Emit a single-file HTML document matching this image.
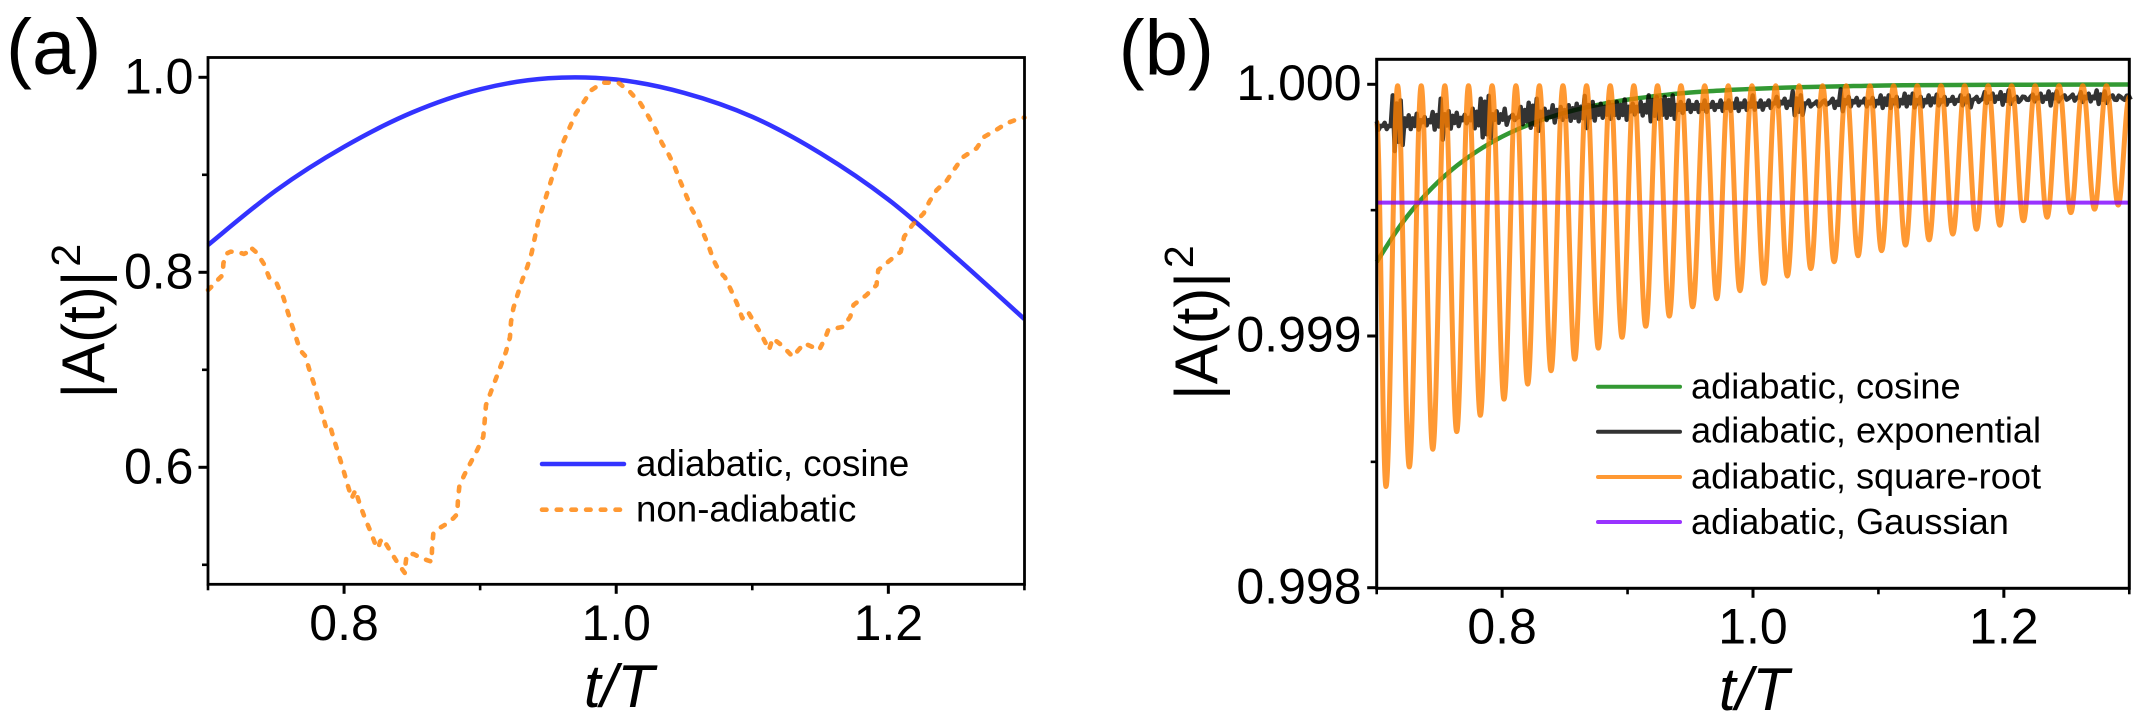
<!DOCTYPE html>
<html>
<head>
<meta charset="utf-8">
<title>Adiabatic amplitude chart</title>
<style>
html,body{margin:0;padding:0;background:#fff;}
svg{display:block;font-family:"Liberation Sans",Arial,sans-serif;}
text{fill:#000;}
</style>
</head>
<body>
<svg id="figure" width="2151" height="724" viewBox="0 0 2151 724" xmlns="http://www.w3.org/2000/svg">
  <rect x="0" y="0" width="2151" height="724" fill="#fff"/>
  <g id="panelA"></g>
  <g id="panelB"></g>

  <text x="6" y="73.6" font-size="78">(a)</text>
  <text x="1118.6" y="74.3" font-size="78">(b)</text>

  <text transform="translate(104,398.5) rotate(-90)" font-size="60">|A(t)|<tspan font-size="41" dy="-24" dx="4">2</tspan></text>
  <text transform="translate(1217,400) rotate(-90)" font-size="60">|A(t)|<tspan font-size="41" dy="-24" dx="4">2</tspan></text>
  <text x="584" y="707" font-size="60" font-style="italic">t/T</text>
  <text x="1719" y="710" font-size="60" font-style="italic">t/T</text>

  <g>
    <line x1="542" y1="464" x2="624" y2="464" stroke="#0000ff" stroke-opacity="0.8" stroke-width="4.5" stroke-linecap="round"/>
    <text x="636" y="476" font-size="36.7">adiabatic, cosine</text>
    <line x1="542" y1="509.7" x2="624" y2="509.7" stroke="#ff8000" stroke-opacity="0.8" stroke-width="4.6" stroke-linecap="round" stroke-dasharray="4.5 10.2"/>
    <text x="636" y="521.7" font-size="36.7">non-adiabatic</text>
  </g>
  <g>
    <line x1="1598" y1="386.7" x2="1680" y2="386.7" stroke="#008000" stroke-opacity="0.8" stroke-width="4" stroke-linecap="round"/>
    <text x="1691" y="398.3" font-size="36.2">adiabatic, cosine</text>
    <line x1="1598" y1="431.7" x2="1680" y2="431.7" stroke="#000" stroke-opacity="0.8" stroke-width="4" stroke-linecap="round"/>
    <text x="1691" y="442.7" font-size="36.2">adiabatic, exponential</text>
    <line x1="1598" y1="477" x2="1680" y2="477" stroke="#ff8000" stroke-opacity="0.8" stroke-width="4" stroke-linecap="round"/>
    <text x="1691" y="488.7" font-size="36.2">adiabatic, square-root</text>
    <line x1="1598" y1="522" x2="1680" y2="522" stroke="#8000ff" stroke-opacity="0.8" stroke-width="4" stroke-linecap="round"/>
    <text x="1691" y="534" font-size="36.2">adiabatic, Gaussian</text>
  </g>
</svg>
<script>
// ---------- Panel (a) data ----------
var aCosineT = [0.70,0.75,0.80,0.85,0.90,0.95,1.00,1.05,1.10,1.15,1.20,1.25,1.30];
var aCosineA = [0.828,0.884,0.9287,0.9639,0.9877,0.999,0.9977,0.984,0.9595,0.9222,0.8746,0.815,0.752];
var aNonAdiabaticT = [0.7000,0.7039,0.7076,0.7108,0.7113,0.7132,0.7166,0.7235,0.7264,0.7301,0.7313,0.7358,0.7377,0.7411,0.7426,0.7455,0.7505,0.7536,0.7554,0.7578,0.7612,0.7647,0.7676,0.7715,0.7745,0.7779,0.7806,0.7838,0.7862,0.7872,0.7901,0.7909,0.7931,0.7965,0.7995,0.8024,0.8056,0.8073,0.8083,0.8117,0.8154,0.8195,0.8227,0.8252,0.8264,0.8284,0.8342,0.8399,0.8448,0.8448,0.8460,0.8509,0.8538,0.8607,0.8644,0.8646,0.8656,0.8710,0.8747,0.8803,0.8832,0.8837,0.8847,0.8881,0.8925,0.8979,0.9023,0.9033,0.9043,0.9077,0.9117,0.9153,0.9190,0.9219,0.9227,0.9244,0.9276,0.9308,0.9347,0.9379,0.9426,0.9523,0.9612,0.9705,0.9771,0.9819,0.9901,1.0016,1.0100,1.0178,1.0235,1.0285,1.0337,1.0388,1.0431,1.0472,1.0513,1.0556,1.0600,1.0640,1.0681,1.0715,1.0759,1.0799,1.0843,1.0887,1.0927,1.0968,1.1018,1.1069,1.1123,1.1150,1.1214,1.1298,1.1339,1.1383,1.1491,1.1535,1.1558,1.1669,1.1720,1.1744,1.1839,1.1913,1.1926,1.2008,1.2091,1.2116,1.2176,1.2260,1.2301,1.2355,1.2429,1.2490,1.2547,1.2648,1.2706,1.2800,1.2868,1.2979,1.3000];
var aNonAdiabaticA = [0.7818,0.7870,0.7928,0.7972,0.8092,0.8188,0.8212,0.8201,0.8188,0.8212,0.8256,0.8201,0.8160,0.8085,0.8031,0.7928,0.7887,0.7784,0.7743,0.7630,0.7477,0.7333,0.7203,0.7142,0.7000,0.6855,0.6707,0.6560,0.6434,0.6390,0.6410,0.6366,0.6263,0.6109,0.5972,0.5829,0.5682,0.5733,0.5767,0.5614,0.5477,0.5340,0.5220,0.5169,0.5237,0.5271,0.5135,0.5008,0.4913,0.4964,0.5101,0.5111,0.5090,0.5049,0.5032,0.5152,0.5323,0.5384,0.5415,0.5477,0.5521,0.5665,0.5802,0.5914,0.6034,0.6178,0.6314,0.6468,0.6639,0.6766,0.6913,0.7046,0.7186,0.7333,0.7494,0.7631,0.7775,0.7914,0.8058,0.8201,0.8519,0.8947,0.9340,0.9634,0.9767,0.9870,0.9945,0.9945,0.9852,0.9733,0.9603,0.9477,0.9323,0.9203,0.9077,0.8929,0.8793,0.8646,0.8536,0.8400,0.8263,0.8126,0.8006,0.7949,0.7819,0.7682,0.7528,0.7596,0.7477,0.7357,0.7203,0.7323,0.7254,0.7134,0.7203,0.7272,0.7203,0.7323,0.7408,0.7442,0.7545,0.7665,0.7767,0.7870,0.8024,0.8119,0.8211,0.8365,0.8485,0.8605,0.8724,0.8844,0.8940,0.9067,0.9180,0.9272,0.9391,0.9467,0.9528,0.9586,0.9586];
var aXMajorTicks = [0.8,1.0,1.2];
var aXMinorTicks = [0.7,0.9,1.1,1.3];
var aYMajorTicks = [1.0,0.8,0.6];
var aYMinorTicks = [0.9,0.7,0.5];
var aXTickLabels = ['0.8','1.0','1.2'];
var aYTickLabels = ['1.0','0.8','0.6'];

// ---------- Panel (b) data ----------
var bCosineT = [0.70,0.72,0.74,0.76,0.78,0.80,0.82,0.84,0.86,0.88,0.90,0.92,0.94,0.96,0.98,1.00,1.04,1.08,1.12,1.20,1.30];
var bCosineA = [0.999294,0.999447,0.999567,0.999661,0.999734,0.999792,0.999837,0.999872,0.999900,0.999922,0.999939,0.999952,0.999963,0.999971,0.999977,0.999982,0.999989,0.999993,0.999996,0.999998,0.999999];
var bExponentialStart = 0.7;
var bExponentialStep = 0.006378;
var bExponentialHigh = [0.999853,0.999847,0.999956,0.999936,0.999877,0.999883,0.99987,0.99989,0.999943,0.999893,0.999887,0.999879,0.999903,0.999943,0.999954,0.999893,0.999903,0.999879,0.99991,0.999927,0.999943,0.999903,0.999917,0.99991,0.999917,0.999923,0.999954,0.99993,0.999923,0.99993,0.99993,0.99994,0.999923,0.99993,0.999956,0.99995,0.99995,0.999956,0.99993,0.999936,0.99993,0.999936,0.99993,0.999936,0.999936,0.999943,0.999936,0.999956,0.999936,0.999936,0.99995,0.999943,0.999972,0.999956,0.999936,0.999932,0.999936,0.999943,0.99998,0.99995,0.999946,0.999943,0.999946,0.999956,0.999956,0.99995,0.999963,0.999963,0.99995,0.999956,0.999959,0.99995,0.99995,0.999956,0.999956,0.99995,0.999969,0.999963,0.999969,0.999976,0.99995,0.99995,0.999959,0.999963,0.999972,0.999972,0.999956,0.999959,0.999969,0.999963,0.999976,0.999972,0.999956,0.99995,0.999956];
var bExponentialLow = [0.99982,0.999822,0.999735,0.999759,0.999822,0.99982,0.999837,0.99982,0.99978,0.999824,0.999834,0.999845,0.999825,0.999789,0.999787,0.999847,0.999839,0.999858,0.999841,0.999827,0.999815,0.999858,0.999848,0.999859,0.999855,0.999853,0.999826,0.999856,0.999867,0.999863,0.999866,0.999859,0.99988,0.999876,0.999853,0.999863,0.999867,0.999863,0.999886,0.99989,0.99989,0.99989,0.999898,0.999894,0.999894,0.999894,0.999898,0.999899,0.999899,0.999906,0.999912,0.999906,0.999877,0.999879,0.999912,0.999912,0.999919,0.999906,0.999893,0.999912,0.999916,0.999912,0.999912,0.999906,0.999906,0.999912,0.999912,0.999908,0.999912,0.999916,0.999916,0.999919,0.999922,0.999916,0.999908,0.99993,0.999926,0.99993,0.999919,0.999922,0.99993,0.999939,0.999932,0.99993,0.999916,0.999932,0.999939,0.999935,0.99993,0.999932,0.999922,0.999926,0.999939,0.999943,0.999939];
var bSquareRootStart = [0.7,0.99985];
var bSquareRootEnd = [1.3,0.99995];
var bSquareRootTroughT = [0.7074,0.7260,0.7447,0.7638,0.7826,0.8015,0.8204,0.8390,0.8579,0.8767,0.8956,0.9145,0.9333,0.9519,0.9711,0.9896,1.0088,1.0274,1.0461,1.0647,1.0838,1.1025,1.1216,1.1404,1.1593,1.1782,1.1968,1.2156,1.2345,1.2534,1.2723,1.2912];
var bSquareRootTroughA = [0.998402,0.99848,0.99855,0.99862,0.998685,0.998749,0.998809,0.998862,0.998908,0.998952,0.998995,0.999039,0.999079,0.999116,0.999148,0.99918,0.999209,0.999238,0.999268,0.999295,0.999319,0.999339,0.999361,0.999382,0.999405,0.999424,0.99944,0.999458,0.999472,0.99949,0.999504,0.99952];
var bSquareRootPeakT = [0.7167,0.7355,0.7543,0.7732,0.7920,0.8110,0.8297,0.8485,0.8673,0.8862,0.9050,0.9239,0.9426,0.9615,0.9803,0.9992,1.0181,1.0368,1.0555,1.0743,1.0932,1.1121,1.1310,1.1499,1.1688,1.1875,1.2062,1.2250,1.2440,1.2629,1.2818];
var bSquareRootPeakA = [0.999994,0.999994,0.999994,0.999994,0.999994,0.999994,0.999994,0.999994,0.999994,0.999994,0.999994,0.999994,0.999994,0.999994,0.999994,0.999994,0.999994,0.999994,0.999994,0.999994,0.999994,0.999994,0.999994,0.999994,0.999994,0.999994,0.999994,0.999994,0.999994,0.999994,0.999994];
var bGaussianT = [0.7,1.3];
var bGaussianA = [0.99953,0.99953];
var bXMajorTicks = [0.8,1.0,1.2];
var bXMinorTicks = [0.7,0.9,1.1,1.3];
var bYMajorTicks = [1.000,0.999,0.998];
var bYMinorTicks = [0.9995,0.9985];
var bXTickLabels = ['0.8','1.0','1.2'];
var bYTickLabels = ['1.000','0.999','0.998'];

// ---------- Axis functions ----------
function axA_x(t){ return 208 + (t - 0.7) * 1360.7; }
function axA_y(v){ return 77.3 + (1 - v) * 975; }
function axB_x(t){ return 1376.7 + (t - 0.7) * 1254.3; }
function axB_y(v){ return 84.3 + (1 - v) * 251700; }

var NS = 'http://www.w3.org/2000/svg';
function add(parent, tag, attrs){
  var el = document.createElementNS(NS, tag);
  for (var k in attrs) el.setAttribute(k, attrs[k]);
  parent.appendChild(el);
  return el;
}
function polyPath(xs, ys, fx, fy){
  var d = '';
  for (var i = 0; i < xs.length; i++){
    d += (i ? 'L' : 'M') + fx(xs[i]).toFixed(2) + ' ' + fy(ys[i]).toFixed(2);
  }
  return d;
}
function smoothPath(xs, ys, fx, fy){
  var p = xs.map(function(x, i){ return [fx(x), fy(ys[i])]; });
  var d = 'M' + p[0][0].toFixed(2) + ' ' + p[0][1].toFixed(2);
  for (var i = 0; i < p.length - 1; i++){
    var p0 = p[Math.max(i - 1, 0)], p1 = p[i], p2 = p[i + 1], p3 = p[Math.min(i + 2, p.length - 1)];
    var c1x = p1[0] + (p2[0] - p0[0]) / 6, c1y = p1[1] + (p2[1] - p0[1]) / 6;
    var c2x = p2[0] - (p3[0] - p1[0]) / 6, c2y = p2[1] - (p3[1] - p1[1]) / 6;
    d += 'C' + c1x.toFixed(2) + ' ' + c1y.toFixed(2) + ' ' + c2x.toFixed(2) + ' ' + c2y.toFixed(2) + ' ' + p2[0].toFixed(2) + ' ' + p2[1].toFixed(2);
  }
  return d;
}
// Passes through each extremum with a flat tangent.
function extremaPath(xs, ys, fx, fy){
  var d = 'M' + fx(xs[0]).toFixed(2) + ' ' + fy(ys[0]).toFixed(2);
  for (var i = 0; i < xs.length - 1; i++){
    var x1 = fx(xs[i]), x2 = fx(xs[i + 1]), y1 = fy(ys[i]), y2 = fy(ys[i + 1]);
    var k = (x2 - x1) * 0.3642;
    d += 'C' + (x1 + k).toFixed(2) + ' ' + y1.toFixed(2) + ' ' + (x2 - k).toFixed(2) + ' ' + y2.toFixed(2) + ' ' + x2.toFixed(2) + ' ' + y2.toFixed(2);
  }
  return d;
}

var panelA = document.getElementById('panelA');
var panelB = document.getElementById('panelB');
var el;

// ---------- Panel (a) series ----------
el = add(panelA, 'path', {d: smoothPath(aCosineT, aCosineA, axA_x, axA_y), fill: 'none', stroke: '#0000ff', 'stroke-opacity': 0.8, 'stroke-width': 4.5});


el = add(panelA, 'path', {d: polyPath(aNonAdiabaticT, aNonAdiabaticA, axA_x, axA_y), fill: 'none', stroke: '#ff8000', 'stroke-opacity': 0.8, 'stroke-width': 4.6, 'stroke-linecap': 'round', 'stroke-linejoin': 'round', 'stroke-dasharray': '4.5 10.2'});



// ---------- Panel (b) series ----------
el = add(panelB, 'path', {d: smoothPath(bCosineT, bCosineA, axB_x, axB_y), fill: 'none', stroke: '#008000', 'stroke-opacity': 0.8, 'stroke-width': 4.5});



// Each sampled column draws a dense up/down stroke so the noise band reads as solid.
var expT = [], expA = [];
for (var i = 0; i < bExponentialHigh.length; i++){
  var nextHigh = i + 1 < bExponentialHigh.length ? bExponentialHigh[i + 1] : bExponentialHigh[i];
  var valley = Math.min(bExponentialHigh[i], nextHigh) - 0.000012;
  var nextLow = i + 1 < bExponentialLow.length ? bExponentialLow[i + 1] : bExponentialLow[i];
  var ridge = Math.max(bExponentialLow[i], nextLow) + 0.000012;
  expT.push(bExponentialStart + i * bExponentialStep);
  expA.push(bExponentialHigh[i]);
  expT.push(bExponentialStart + (i + 0.25) * bExponentialStep);
  expA.push(bExponentialLow[i]);
  if (i + 1 < bExponentialHigh.length){
    expT.push(bExponentialStart + (i + 0.5) * bExponentialStep);
    expA.push(valley);
    expT.push(bExponentialStart + (i + 0.75) * bExponentialStep);
    expA.push(ridge);
  }
}
el = add(panelB, 'path', {d: polyPath(expT, expA, axB_x, axB_y), fill: 'none', stroke: '#000', 'stroke-opacity': 0.8, 'stroke-width': 4.4, 'stroke-linejoin': 'round'});



var srT = [bSquareRootStart[0]], srA = [bSquareRootStart[1]];
for (var j = 0; j < bSquareRootTroughT.length; j++){
  srT.push(bSquareRootTroughT[j]);
  srA.push(bSquareRootTroughA[j]);
  if (j < bSquareRootPeakT.length){
    srT.push(bSquareRootPeakT[j]);
    srA.push(bSquareRootPeakA[j]);
  }
}
srT.push(bSquareRootEnd[0]);
srA.push(bSquareRootEnd[1]);
el = add(panelB, 'path', {d: extremaPath(srT, srA, axB_x, axB_y), fill: 'none', stroke: '#ff8000', 'stroke-opacity': 0.8, 'stroke-width': 5});



el = add(panelB, 'path', {d: polyPath(bGaussianT, bGaussianA, axB_x, axB_y), fill: 'none', stroke: '#8000ff', 'stroke-opacity': 0.8, 'stroke-width': 4});



// ---------- Frames, ticks, labels ----------
function drawAxes(parent, prefix, L, R, T, B, w, fx, fy, xMaj, xMin, yMaj, yMin, xLab, yLab, xBase, yBaseOff, yRight){
  var f = add(parent, 'rect', {x: L, y: T, width: R - L, height: B - T, fill: 'none', stroke: '#000', 'stroke-width': w});
  
  
  xMaj.forEach(function(t, i){
    var m = add(parent, 'line', {x1: fx(t), x2: fx(t), y1: B, y2: B + 9.5, stroke: '#000', 'stroke-width': 3});
    
    
    var s = add(parent, 'text', {x: fx(t), y: xBase, 'font-size': 50, 'text-anchor': 'middle'});
    s.textContent = xLab[i];
    
    
  });
  xMin.forEach(function(t){
    var m = add(parent, 'line', {x1: fx(t), x2: fx(t), y1: B, y2: B + 6, stroke: '#000', 'stroke-width': 2.6});
    
    
  });
  yMaj.forEach(function(v, i){
    var m = add(parent, 'line', {x1: L - 9.5, x2: L, y1: fy(v), y2: fy(v), stroke: '#000', 'stroke-width': 3});
    
    
    var s = add(parent, 'text', {x: yRight, y: fy(v) + yBaseOff, 'font-size': 50, 'text-anchor': 'end'});
    s.textContent = yLab[i];
    
    
  });
  yMin.forEach(function(v){
    var m = add(parent, 'line', {x1: L - 6, x2: L, y1: fy(v), y2: fy(v), stroke: '#000', 'stroke-width': 2.6});
    
    
  });
}
drawAxes(panelA, 'panel-a', 208, 1024.5, 57.5, 584.3, 2.8, axA_x, axA_y, aXMajorTicks, aXMinorTicks, aYMajorTicks, aYMinorTicks, aXTickLabels, aYTickLabels, 640, 16, 193.5);
drawAxes(panelB, 'panel-b', 1376.7, 2129.3, 59.3, 588.3, 3, axB_x, axB_y, bXMajorTicks, bXMinorTicks, bYMajorTicks, bYMinorTicks, bXTickLabels, bYTickLabels, 643.3, 15.7, 1361.5);
</script>
</body>
</html>
